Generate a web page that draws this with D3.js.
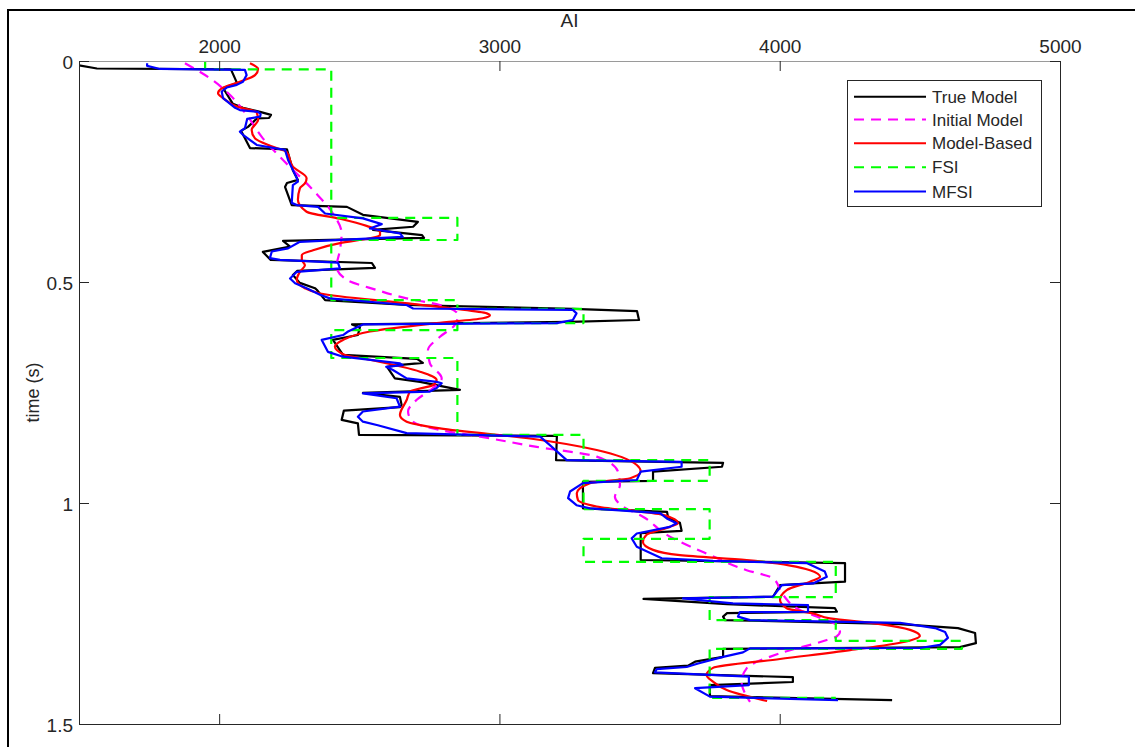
<!DOCTYPE html>
<html>
<head>
<meta charset="utf-8">
<script src="https://cdn.jsdelivr.net/npm/d3@7"></script>
<style>
  html, body { margin: 0; padding: 0; background: #fff; }
  svg { display: block; }
  text { font-family: "Liberation Sans", Arial, Helvetica, sans-serif; fill: #262626; }
</style>
</head>
<body>
<svg id="chart" width="1135" height="747"></svg>
<script>
// ---------------- data ----------------
const xTicks = [2000, 3000, 4000, 5000];
const yTicks = [0, 0.5, 1, 1.5];
const xDomain = [1500, 5000];
const yDomain = [0, 1.5];
const xLabel = "AI";
const yLabel = "time (s)";
const seriesNames = ["True Model", "Initial Model", "Model-Based", "FSI", "MFSI"];

// each entry: [time (s), AI]
const trueModel = [[0.010,1500],[0.017,1564],[0.019,2042],[0.050,2064],[0.061,2014],[0.097,2049],[0.106,2085],[0.115,2146],[0.122,2185],[0.129,2178],[0.130,2135],[0.149,2103],[0.158,2078],[0.197,2110],[0.200,2242],[0.247,2263],[0.269,2281],[0.276,2242],[0.285,2235],[0.326,2259],[0.330,2456],[0.348,2513],[0.364,2709],[0.375,2692],[0.382,2549],[0.394,2724],[0.400,2731],[0.407,2228],[0.420,2253],[0.432,2156],[0.450,2184],[0.457,2545],[0.468,2556],[0.475,2278],[0.484,2263],[0.502,2288],[0.514,2342],[0.518,2349],[0.541,2378],[0.552,2670],[0.561,3262],[0.566,3491],[0.586,3498],[0.590,3252],[0.596,2474],[0.603,2502],[0.620,2495],[0.631,2406],[0.665,2442],[0.674,2706],[0.683,2727],[0.688,2638],[0.692,2599],[0.718,2627],[0.726,2717],[0.744,2859],[0.751,2513],[0.760,2645],[0.778,2651],[0.783,2645],[0.791,2445],[0.812,2437],[0.820,2495],[0.846,2499],[0.848,3205],[0.903,3202],[0.909,3798],[0.918,3794],[0.929,3548],[0.950,3548],[0.952,3298],[1.012,3298],[1.020,3598],[1.034,3602],[1.045,3644],[1.063,3650],[1.068,3504],[1.129,3504],[1.136,4233],[1.178,4233],[1.186,4001],[1.212,3976],[1.217,3514],[1.229,3812],[1.238,4197],[1.246,4204],[1.249,3812],[1.257,3798],[1.265,3805],[1.274,4429],[1.283,4636],[1.294,4697],[1.317,4700],[1.326,4643],[1.330,3798],[1.348,3798],[1.359,3698],[1.368,3673],[1.373,3555],[1.385,3548],[1.394,4047],[1.405,4047],[1.412,3751],[1.437,3751],[1.446,4401]];

const initialModel = [[0.005,1878],[0.039,1967],[0.077,2039],[0.122,2098],[0.175,2156],[0.217,2217],[0.292,2335],[0.345,2406],[0.390,2437],[0.428,2431],[0.465,2419],[0.495,2455],[0.518,2562],[0.537,2669],[0.552,2788],[0.575,2852],[0.597,2841],[0.624,2788],[0.654,2745],[0.684,2752],[0.718,2794],[0.740,2763],[0.767,2704],[0.793,2674],[0.816,2692],[0.835,2788],[0.850,2931],[0.873,3133],[0.895,3347],[0.929,3423],[0.959,3430],[0.986,3412],[1.008,3441],[1.031,3512],[1.072,3597],[1.118,3752],[1.152,3882],[1.170,3976],[1.208,4012],[1.242,4072],[1.257,4132],[1.276,4203],[1.291,4215],[1.302,4203],[1.310,4168],[1.340,4001],[1.374,3882],[1.404,3864],[1.450,3894]];

const modelBased = [[0.005,2110],[0.018,2139],[0.032,2128],[0.047,2074],[0.062,2009],[0.073,1996],[0.084,2014],[0.103,2063],[0.116,2134],[0.133,2139],[0.156,2116],[0.175,2128],[0.194,2192],[0.206,2241],[0.239,2263],[0.265,2312],[0.277,2306],[0.288,2288],[0.314,2281],[0.341,2312],[0.357,2431],[0.373,2526],[0.387,2574],[0.394,2574],[0.401,2538],[0.412,2431],[0.428,2335],[0.439,2295],[0.450,2295],[0.462,2306],[0.477,2288],[0.495,2277],[0.514,2306],[0.526,2360],[0.548,2663],[0.560,2834],[0.571,2955],[0.576,2966],[0.582,2941],[0.593,2776],[0.612,2538],[0.631,2442],[0.646,2413],[0.665,2449],[0.676,2538],[0.703,2717],[0.722,2776],[0.733,2763],[0.748,2681],[0.767,2669],[0.801,2645],[0.816,2669],[0.831,2788],[0.854,3109],[0.880,3347],[0.914,3490],[0.929,3504],[0.944,3467],[0.955,3323],[0.978,3276],[0.993,3280],[1.008,3347],[1.027,3583],[1.046,3637],[1.054,3608],[1.072,3525],[1.088,3512],[1.106,3548],[1.118,3644],[1.129,3882],[1.152,4108],[1.167,4144],[1.178,4108],[1.197,4025],[1.219,4001],[1.238,4025],[1.250,4119],[1.261,4179],[1.274,4358],[1.287,4465],[1.301,4500],[1.314,4447],[1.333,4251],[1.353,4001],[1.373,3762],[1.389,3739],[1.404,3762],[1.423,3811],[1.448,3955]];

const fsi = [[0,1950],[0.019,1950],[0.019,2400],[0.355,2400],[0.355,2850],[0.405,2850],[0.405,2400],[0.541,2400],[0.541,2850],[0.561,2850],[0.561,3300],[0.593,3300],[0.593,2850],[0.609,2850],[0.609,2400],[0.672,2400],[0.672,2850],[0.846,2850],[0.846,3300],[0.903,3300],[0.903,3750],[0.950,3750],[0.950,3300],[1.014,3300],[1.014,3750],[1.081,3750],[1.081,3300],[1.133,3300],[1.133,4200],[1.213,4200],[1.213,3750],[1.265,3750],[1.265,4200],[1.312,4200],[1.312,4650],[1.330,4650],[1.330,3750],[1.441,3750],[1.441,4200]];

const mfsi = [[0.005,1743],[0.011,1743],[0.018,1789],[0.020,2092],[0.032,2098],[0.047,2085],[0.054,2063],[0.060,2027],[0.069,2009],[0.084,2014],[0.106,2057],[0.111,2074],[0.115,2139],[0.120,2148],[0.126,2146],[0.131,2100],[0.152,2092],[0.160,2074],[0.167,2085],[0.190,2134],[0.201,2235],[0.224,2246],[0.265,2277],[0.273,2281],[0.281,2263],[0.321,2259],[0.326,2277],[0.330,2353],[0.345,2378],[0.356,2513],[0.369,2580],[0.379,2538],[0.390,2645],[0.398,2655],[0.409,2288],[0.424,2246],[0.431,2188],[0.446,2181],[0.450,2217],[0.456,2424],[0.469,2431],[0.477,2277],[0.492,2253],[0.503,2271],[0.514,2312],[0.529,2360],[0.537,2395],[0.552,2669],[0.560,2692],[0.563,3262],[0.571,3275],[0.586,3262],[0.593,3204],[0.596,2513],[0.612,2460],[0.620,2442],[0.631,2366],[0.658,2388],[0.669,2442],[0.684,2645],[0.688,2655],[0.692,2596],[0.699,2620],[0.718,2669],[0.726,2776],[0.729,2794],[0.740,2776],[0.748,2752],[0.752,2513],[0.763,2633],[0.782,2645],[0.793,2513],[0.805,2495],[0.816,2513],[0.824,2566],[0.842,2669],[0.850,3145],[0.869,3180],[0.903,3240],[0.907,3650],[0.918,3650],[0.929,3504],[0.948,3490],[0.955,3298],[0.974,3252],[0.989,3245],[1.005,3275],[1.012,3323],[1.023,3573],[1.035,3597],[1.046,3632],[1.054,3608],[1.069,3490],[1.080,3472],[1.099,3490],[1.125,3579],[1.131,3762],[1.136,4096],[1.155,4161],[1.167,4168],[1.182,4119],[1.186,4007],[1.201,3989],[1.212,3976],[1.216,3655],[1.227,3833],[1.231,4101],[1.246,4101],[1.247,3858],[1.257,3851],[1.265,3894],[1.271,4429],[1.283,4554],[1.292,4590],[1.305,4600],[1.321,4572],[1.328,4500],[1.329,3894],[1.338,3869],[1.348,3798],[1.363,3709],[1.371,3668],[1.376,3561],[1.383,3555],[1.393,3890],[1.412,3890],[1.419,3698],[1.438,3751],[1.446,4208]];

// ---------------- drawing ----------------
const svg = d3.select("#chart");
const plot = { left: 79, top: 61, right: 1060, bottom: 724 };

const x = d3.scaleLinear().domain(xDomain).range([plot.left, plot.right]);
const y = d3.scaleLinear().domain(yDomain).range([plot.top, plot.bottom]);

// outer figure frame
svg.append("rect")
  .attr("x", 8).attr("y", 10).attr("width", 1200).attr("height", 800)
  .attr("fill", "none").attr("stroke", "#000").attr("stroke-width", 2);

// clip
svg.append("clipPath").attr("id", "clip")
  .append("rect")
  .attr("x", plot.left).attr("y", plot.top)
  .attr("width", plot.right - plot.left).attr("height", plot.bottom - plot.top);

const series = [
  { name: seriesNames[0], data: trueModel, color: "#000000", dash: null, curve: d3.curveLinear },
  { name: seriesNames[1], data: initialModel, color: "#ff00ff", dash: "10,7", curve: d3.curveMonotoneY },
  { name: seriesNames[2], data: modelBased, color: "#ff0000", dash: null, curve: d3.curveMonotoneY },
  { name: seriesNames[3], data: fsi, color: "#00ff00", dash: "10,7", curve: d3.curveLinear },
  { name: seriesNames[4], data: mfsi, color: "#0000ff", dash: null, curve: d3.curveLinear }
];

const g = svg.append("g").attr("clip-path", "url(#clip)");
series.forEach(s => {
  const line = d3.line().x(d => x(d[1])).y(d => y(d[0])).curve(s.curve);
  g.append("path")
    .datum(s.data)
    .attr("d", line)
    .attr("fill", "none")
    .attr("stroke", s.color)
    .attr("stroke-width", 2.2)
    .attr("stroke-linejoin", "round")
    .attr("stroke-dasharray", s.dash);
});

// axes (MATLAB style: inward ticks, box)
const tickLen = 10;
const fontSize = 19;

const axTop = svg.append("g").attr("transform", `translate(0,${plot.top})`)
  .call(d3.axisTop(x).tickValues(xTicks).tickSizeInner(-tickLen).tickSizeOuter(0).tickPadding(8).tickFormat(d3.format("d")));
axTop.select(".domain").attr("stroke", "#9a9a9a");

const axBottom = svg.append("g").attr("transform", `translate(0,${plot.bottom})`)
  .call(d3.axisBottom(x).tickValues(xTicks).tickSizeInner(-tickLen).tickSizeOuter(0).tickFormat(""));

const axLeft = svg.append("g").attr("transform", `translate(${plot.left},0)`)
  .call(d3.axisLeft(y).tickValues(yTicks).tickSizeInner(-tickLen).tickSizeOuter(0).tickPadding(6).tickFormat(d => d3.format("")(d)));

const axRight = svg.append("g").attr("transform", `translate(${plot.right},0)`)
  .call(d3.axisRight(y).tickValues(yTicks).tickSizeInner(-tickLen).tickSizeOuter(0).tickFormat(""));

[axTop, axBottom, axLeft, axRight].forEach(a => {
  a.selectAll("line").attr("stroke", "#262626");
  a.selectAll("text")
    .style("font-family", '"Liberation Sans", Arial, sans-serif')
    .style("font-size", fontSize + "px")
    .attr("fill", "#262626");
});
[axBottom, axLeft, axRight].forEach(a => a.select(".domain").attr("stroke", "#262626"));
axLeft.selectAll("text").attr("dy", "0.42em");

// axis labels
svg.append("text")
  .attr("x", (plot.left + plot.right) / 2).attr("y", 27)
  .attr("text-anchor", "middle")
  .style("font-size", fontSize + "px")
  .text(xLabel);

svg.append("text")
  .attr("transform", `translate(39,${(plot.top + plot.bottom) / 2}) rotate(-90)`)
  .attr("text-anchor", "middle")
  .style("font-size", "18px")
  .text(yLabel);

// legend
const lg = svg.append("g");
lg.append("rect")
  .attr("x", 847.5).attr("y", 80.5).attr("width", 194).attr("height", 126)
  .attr("fill", "#fff").attr("stroke", "#262626").attr("stroke-width", 1);
const rowY = [96.7, 119.5, 143.3, 167.3, 191.5];
series.forEach((s, i) => {
  lg.append("line")
    .attr("x1", 854).attr("x2", 926)
    .attr("y1", rowY[i]).attr("y2", rowY[i])
    .attr("stroke", s.color).attr("stroke-width", 2)
    .attr("stroke-dasharray", s.dash);
  lg.append("text")
    .attr("x", 932).attr("y", rowY[i])
    .attr("dy", "0.36em")
    .style("font-size", "17px")
    .text(s.name);
});
</script>
</body>
</html>
